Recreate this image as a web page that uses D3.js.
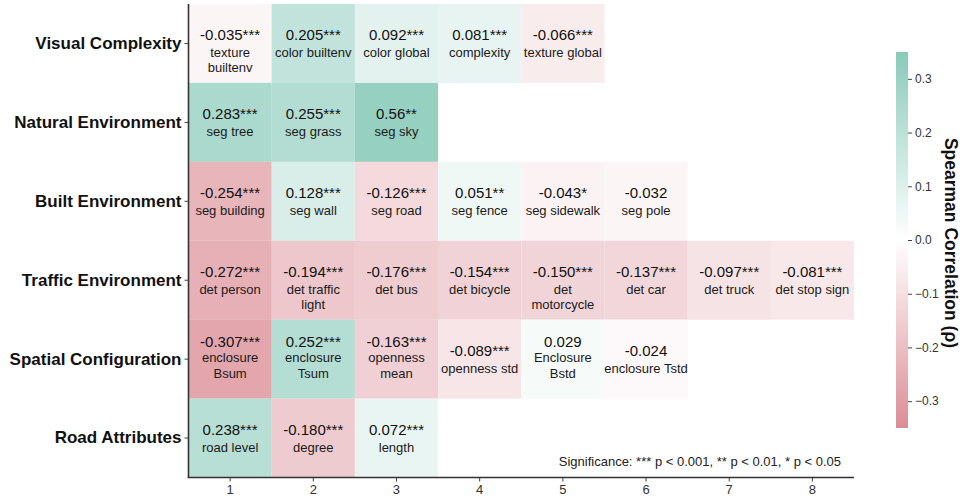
<!DOCTYPE html>
<html>
<head>
<meta charset="utf-8">
<script src="https://cdn.jsdelivr.net/npm/d3@7/dist/d3.min.js"></script>
<style>
  html, body { margin: 0; padding: 0; background: #fff; }
  svg { display: block; font-family: "Liberation Sans", Arial, sans-serif; }
</style>
</head>
<body>
<svg id="chart" width="963" height="498"></svg>
<script>
// Feature groups (rows) and column ranks
const groups = ["Visual Complexity", "Natural Environment", "Built Environment",
                "Traffic Environment", "Spatial Configuration", "Road Attributes"];
const ranks = [1, 2, 3, 4, 5, 6, 7, 8];

// Spearman correlations per group, as printed
const visualValues  = ["-0.035", "0.205", "0.092", "0.081", "-0.066"];
const naturalValues = ["0.283", "0.255", "0.56"];
const builtValues   = ["-0.254", "0.128", "-0.126", "0.051", "-0.043", "-0.032"];
const trafficValues = ["-0.272", "-0.194", "-0.176", "-0.154", "-0.150", "-0.137", "-0.097", "-0.081"];
const spatialValues = ["-0.307", "0.252", "-0.163", "-0.089", "0.029", "-0.024"];
const roadValues    = ["0.238", "-0.180", "0.072"];

// Significance stars
const visualStars  = ["***", "***", "***", "***", "***"];
const naturalStars = ["***", "***", "**"];
const builtStars   = ["***", "***", "***", "**", "*", ""];
const trafficStars = ["***", "***", "***", "***", "***", "***", "***", "***"];
const spatialStars = ["***", "***", "***", "***", "", ""];
const roadStars    = ["***", "***", "***"];

// Variable names ("|" continues below the value, "\n" centres the block)
const visualNames  = ["texture|builtenv", "color builtenv", "color global", "complexity", "texture global"];
const naturalNames = ["seg tree", "seg grass", "seg sky"];
const builtNames   = ["seg building", "seg wall", "seg road", "seg fence", "seg sidewalk", "seg pole"];
const trafficNames = ["det person", "det traffic|light", "det bus", "det bicycle", "det|motorcycle",
                      "det car", "det truck", "det stop sign"];
const spatialNames = ["enclosure\nBsum", "enclosure\nTsum", "openness\nmean", "openness std",
                      "Enclosure\nBstd", "enclosure Tstd"];
const roadNames    = ["road level", "degree", "length"];

const colorbarTicks = [-0.3, -0.2, -0.1, 0.0, 0.1, 0.2, 0.3];
const colorDomain = [-0.35, 0.35];
const significanceNote = "Significance: *** p < 0.001, ** p < 0.01, * p < 0.05";
const colorbarTitle = "Spearman Correlation (\u03c1)";

const valueTable = [visualValues, naturalValues, builtValues, trafficValues, spatialValues, roadValues];
const starTable  = [visualStars, naturalStars, builtStars, trafficStars, spatialStars, roadStars];
const nameTable  = [visualNames, naturalNames, builtNames, trafficNames, spatialNames, roadNames];

const cells = [];
groups.forEach((g, r) => {
  valueTable[r].forEach((v, c) => {
    cells.push({ group: g, rank: ranks[c], text: v, value: +v, stars: starTable[r][c], name: nameTable[r][c] });
  });
});

const svg = d3.select("#chart");
const margin = { left: 188.5, top: 4, right: 854, bottom: 477.5 };

const x = d3.scaleBand().domain(ranks).range([margin.left, margin.right]).padding(0);
const y = d3.scaleBand().domain(groups).range([margin.top, margin.bottom]).padding(0);

const teal = "#7cc4b2", red = "#d7808a";
const color = d3.scaleLinear()
  .domain([colorDomain[0], 0, colorDomain[1]])
  .range([red, "#ffffff", teal])
  .interpolate(d3.interpolateRgb)
  .clamp(true);

// Heatmap cells
const cellG = svg.append("g");
cellG.selectAll("rect").data(cells).join("rect")
  .attr("x", d => x(d.rank))
  .attr("y", d => y(d.group))
  .attr("width", x.bandwidth())
  .attr("height", y.bandwidth())
  .attr("fill", d => color(d.value))
  .attr("fill-opacity", 0.8);

// Cell labels
const labelG = svg.append("g");
cells.forEach(d => {
  const cx = x(d.rank) + x.bandwidth() / 2;
  const cy = y(d.group) + y.bandwidth() / 2;
  const centred = d.name.includes("\n");
  const lines = d.name.split(/[|\n]/);
  let vy, ly;
  if (centred) {
    vy = cy - 17.5;
    ly = i => cy - 1.5 + i * 16;
  } else {
    vy = cy - 8.5;
    ly = i => cy + 9 + i * 15.5;
  }
  labelG.append("text")
    .attr("x", cx).attr("y", vy)
    .attr("text-anchor", "middle").attr("dominant-baseline", "central")
    .attr("font-size", 15).attr("fill", "#111")
    .text(d.text + d.stars);
  lines.forEach((ln, i) => {
    labelG.append("text")
      .attr("x", cx).attr("y", ly(i))
      .attr("text-anchor", "middle").attr("dominant-baseline", "central")
      .attr("font-size", 13).attr("fill", "#1a1a1a")
      .text(ln);
  });
});

// Axes
const yAxis = svg.append("g")
  .attr("transform", `translate(${margin.left},0)`)
  .call(d3.axisLeft(y).tickSize(4).tickPadding(3));
yAxis.select(".domain").remove();
yAxis.selectAll(".tick line").attr("stroke", "#444");
yAxis.selectAll(".tick text")
  .attr("font-size", 17).attr("font-weight", "bold").attr("fill", "#111")
  .attr("font-family", "'Liberation Sans', Arial, sans-serif");

const xAxis = svg.append("g")
  .attr("transform", `translate(0,${margin.bottom})`)
  .call(d3.axisBottom(x).tickSize(4).tickPadding(3));
xAxis.select(".domain").remove();
xAxis.selectAll(".tick line").attr("stroke", "#444");
xAxis.selectAll(".tick text")
  .attr("font-size", 13).attr("fill", "#333")
  .attr("font-family", "'Liberation Sans', Arial, sans-serif");

// Spines
svg.append("line")
  .attr("x1", margin.left).attr("x2", margin.left)
  .attr("y1", margin.top).attr("y2", margin.bottom)
  .attr("stroke", "#333").attr("stroke-width", 1.6);
svg.append("line")
  .attr("x1", margin.left - 0.8).attr("x2", margin.right)
  .attr("y1", margin.bottom).attr("y2", margin.bottom)
  .attr("stroke", "#333").attr("stroke-width", 1.6);

// Significance note
svg.append("text")
  .attr("x", 841).attr("y", 466)
  .attr("text-anchor", "end")
  .attr("font-size", 13).attr("fill", "#222")
  .text(significanceNote);

// Colour bar
const cb = { x: 896, w: 12, top: 52, bottom: 428 };
const cbScale = d3.scaleLinear().domain(colorDomain).range([cb.bottom, cb.top]);
const defs = svg.append("defs");
const grad = defs.append("linearGradient")
  .attr("id", "cbGrad").attr("x1", 0).attr("y1", 1).attr("x2", 0).attr("y2", 0);
d3.range(0, 1.0001, 0.05).forEach(t => {
  const v = colorDomain[0] + t * (colorDomain[1] - colorDomain[0]);
  grad.append("stop").attr("offset", t).attr("stop-color", color(v));
});
svg.append("rect")
  .attr("x", cb.x).attr("y", cb.top)
  .attr("width", cb.w).attr("height", cb.bottom - cb.top)
  .attr("fill", "url(#cbGrad)").attr("fill-opacity", 0.9);

const cbAxis = svg.append("g")
  .attr("transform", `translate(${cb.x + cb.w},0)`)
  .call(d3.axisRight(cbScale).tickValues(colorbarTicks).tickFormat(d3.format(".1f")).tickSize(4).tickPadding(3));
cbAxis.select(".domain").remove();
cbAxis.selectAll(".tick line").attr("stroke", "#444");
cbAxis.selectAll(".tick text")
  .attr("font-size", 12).attr("fill", "#333")
  .attr("font-family", "'Liberation Sans', Arial, sans-serif");

svg.append("text")
  .attr("transform", `translate(951,${(cb.top + cb.bottom) / 2 + 3}) rotate(90)`)
  .attr("text-anchor", "middle").attr("dominant-baseline", "central")
  .attr("font-size", 17.5).attr("font-weight", "bold").attr("fill", "#111")
  .text(colorbarTitle);
</script>
</body>
</html>
